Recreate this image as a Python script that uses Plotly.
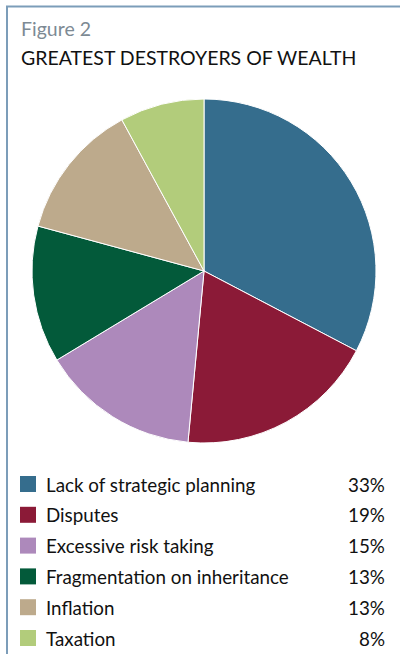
import plotly.graph_objects as go

W, H = 400, 654

categories = [
    "Lack of strategic planning",
    "Disputes",
    "Excessive risk taking",
    "Fragmentation on inheritance",
    "Inflation",
    "Taxation",
]
shares = [33, 19, 15, 13, 13, 8]
colors = ["#356D8D", "#8B1A37", "#AD89BB", "#035A3A", "#BDAA8C", "#B2CC7B"]

FONT = "Lato"

fig = go.Figure()
fig.add_trace(go.Pie(
    labels=categories,
    values=shares,
    sort=False,
    direction="clockwise",
    rotation=0,
    marker=dict(colors=colors, line=dict(color="white", width=1)),
    textinfo="none",
    hoverinfo="label+percent",
    showlegend=False,
    domain=dict(x=[32 / W, 376 / W], y=[1 - 443 / H, 1 - 99 / H]),
))


def px(x):
    return x / W


def py(y):
    return 1 - y / H


annotations = [
    dict(x=px(19), y=py(28), text="Figure 2", showarrow=False,
         xanchor="left", yanchor="middle",
         font=dict(family=FONT, size=19.5, color="#7D8A94")),
    dict(x=px(19), y=py(58), text="GREATEST DESTROYERS OF WEALTH", showarrow=False,
         xanchor="left", yanchor="middle",
         font=dict(family=FONT, size=19.5, color="#111111")),
]
shapes = [
    dict(type="line", xref="paper", yref="paper", x0=px(6), x1=px(400), y0=py(6.5), y1=py(6.5),
         line=dict(color="#7C9DB9", width=2)),
    dict(type="line", xref="paper", yref="paper", x0=px(7), x1=px(7), y0=py(6), y1=py(654),
         line=dict(color="#7C9DB9", width=2)),
]

# legend rows: colour swatch, label, percentage
row0, step = 484, 30.8
for i, (cat, val, col) in enumerate(zip(categories, shares, colors)):
    yc = row0 + i * step
    shapes.append(dict(type="rect", xref="paper", yref="paper",
                       x0=px(20), x1=px(36), y0=py(yc - 8), y1=py(yc + 8),
                       fillcolor=col, line=dict(width=0)))
    annotations.append(dict(x=px(44), y=py(yc), text=cat, showarrow=False,
                            xanchor="left", yanchor="middle",
                            font=dict(family=FONT, size=18.8, color="#111111")))
    annotations.append(dict(x=px(387), y=py(yc), text=f"{val}%", showarrow=False,
                            xanchor="right", yanchor="middle",
                            font=dict(family=FONT, size=18.8, color="#111111")))

fig.update_layout(
    width=W, height=H,
    margin=dict(l=0, r=0, t=0, b=0),
    paper_bgcolor="white",
    plot_bgcolor="white",
    annotations=annotations,
    shapes=shapes,
)

fig.write_html("out.html")
